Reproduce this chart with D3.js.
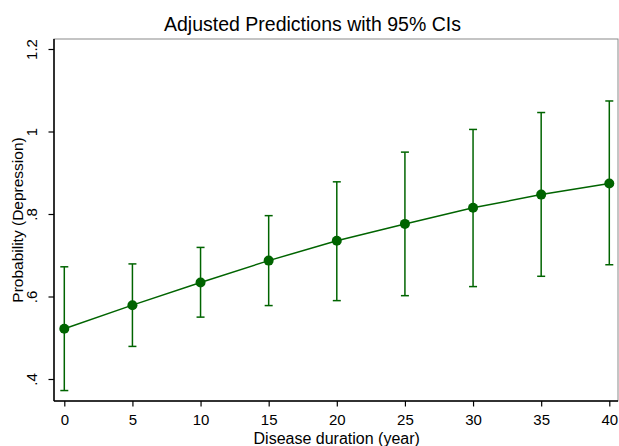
<!DOCTYPE html>
<html><head><meta charset="utf-8">
<script src="https://cdn.jsdelivr.net/npm/d3@7"></script>
<style>body{margin:0;background:#fff}svg{display:block}text{font-family:"Liberation Sans",Arial,sans-serif;fill:#000}</style>
</head><body>
<script>
const durations = [0, 5, 10, 15, 20, 25, 30, 35, 40];
const predicted = [0.522, 0.579, 0.634, 0.687, 0.735, 0.776, 0.815, 0.847, 0.874];
const ciLower = [0.372, 0.479, 0.550, 0.578, 0.590, 0.602, 0.624, 0.649, 0.677];
const ciUpper = [0.672, 0.679, 0.719, 0.796, 0.878, 0.950, 1.005, 1.046, 1.074];
const yTicks = [0.4, 0.6, 0.8, 1.0, 1.2];
const yTickLabels = [".4", ".6", ".8", "1", "1.2"];
const xTicks = [0, 5, 10, 15, 20, 25, 30, 35, 40];

(function () {
const W = 619, H = 446;
const svg = d3.select("body").append("svg").attr("width", W).attr("height", H);
const green = "#006400";

const x = d3.scaleLinear().domain([0, 40]).range([64.3, 609.3]);
const y = d3.scaleLinear().domain([0.4, 1.2]).range([379, 49]);

const pL = 54, pR = 618, pT = 39, pB = 401;

// frame
svg.append("rect").attr("x", pL).attr("y", pT).attr("width", pR - pL).attr("height", pB - pT)
  .attr("fill", "none").attr("stroke", "#8a8a8a").attr("stroke-width", 1);

// axes
const yAxis = svg.append("g").attr("transform", `translate(${pL},0)`)
  .call(d3.axisLeft(y).tickValues(yTicks).tickSize(5.5).tickFormat((d, i) => yTickLabels[i]));
yAxis.select(".domain").attr("d", `M0,${pT}V${pB}`).attr("stroke", "#000").attr("stroke-width", 1.5);
yAxis.selectAll(".tick line").attr("stroke", "#000").attr("stroke-width", 1.2);
yAxis.selectAll(".tick text").attr("font-size", 15).attr("fill", "#000")
  .attr("transform", "rotate(-90)").attr("x", 0).attr("y", -17).attr("dy", 0)
  .attr("text-anchor", "middle");

const xAxis = svg.append("g").attr("transform", `translate(0,${pB})`)
  .call(d3.axisBottom(x).tickValues(xTicks).tickSize(5.5).tickFormat(d3.format("d")));
xAxis.select(".domain").attr("d", `M${pL},0H${pR}`).attr("stroke", "#000").attr("stroke-width", 1.5);
xAxis.selectAll(".tick line").attr("stroke", "#000").attr("stroke-width", 1.2);
xAxis.selectAll(".tick text").attr("font-size", 15).attr("fill", "#000").attr("y", 24).attr("dy", 0);

// titles
svg.append("text").attr("x", 312.5).attr("y", 30.7).attr("text-anchor", "middle").attr("font-size", 19.5)
  .text("Adjusted Predictions with 95% CIs");
svg.append("text").attr("x", 336.7).attr("y", 444).attr("text-anchor", "middle").attr("font-size", 16)
  .text("Disease duration (year)");
svg.append("text").attr("transform", `translate(22.5,${(pT + pB) / 2}) rotate(-90)`)
  .attr("text-anchor", "middle").attr("font-size", 15.5).text("Probability (Depression)");

// data
const data = durations.map((d, i) => ({ d, p: predicted[i], lo: ciLower[i], hi: ciUpper[i] }));
const g = svg.append("g");
const cap = 4;
g.selectAll(".ci").data(data).join("line").attr("class", "ci")
  .attr("x1", d => x(d.d)).attr("x2", d => x(d.d)).attr("y1", d => y(d.lo)).attr("y2", d => y(d.hi))
  .attr("stroke", green).attr("stroke-width", 1.5);
g.selectAll(".capt").data(data).join("line").attr("class", "capt")
  .attr("x1", d => x(d.d) - cap).attr("x2", d => x(d.d) + cap).attr("y1", d => y(d.hi)).attr("y2", d => y(d.hi))
  .attr("stroke", green).attr("stroke-width", 1.5);
g.selectAll(".capb").data(data).join("line").attr("class", "capb")
  .attr("x1", d => x(d.d) - cap).attr("x2", d => x(d.d) + cap).attr("y1", d => y(d.lo)).attr("y2", d => y(d.lo))
  .attr("stroke", green).attr("stroke-width", 1.5);
g.append("path").datum(data).attr("fill", "none").attr("stroke", green).attr("stroke-width", 1.5)
  .attr("d", d3.line().x(d => x(d.d)).y(d => y(d.p)));
g.selectAll(".pt").data(data).join("circle").attr("class", "pt")
  .attr("cx", d => x(d.d)).attr("cy", d => y(d.p)).attr("r", 5).attr("fill", green);
})();
</script>
</body></html>
